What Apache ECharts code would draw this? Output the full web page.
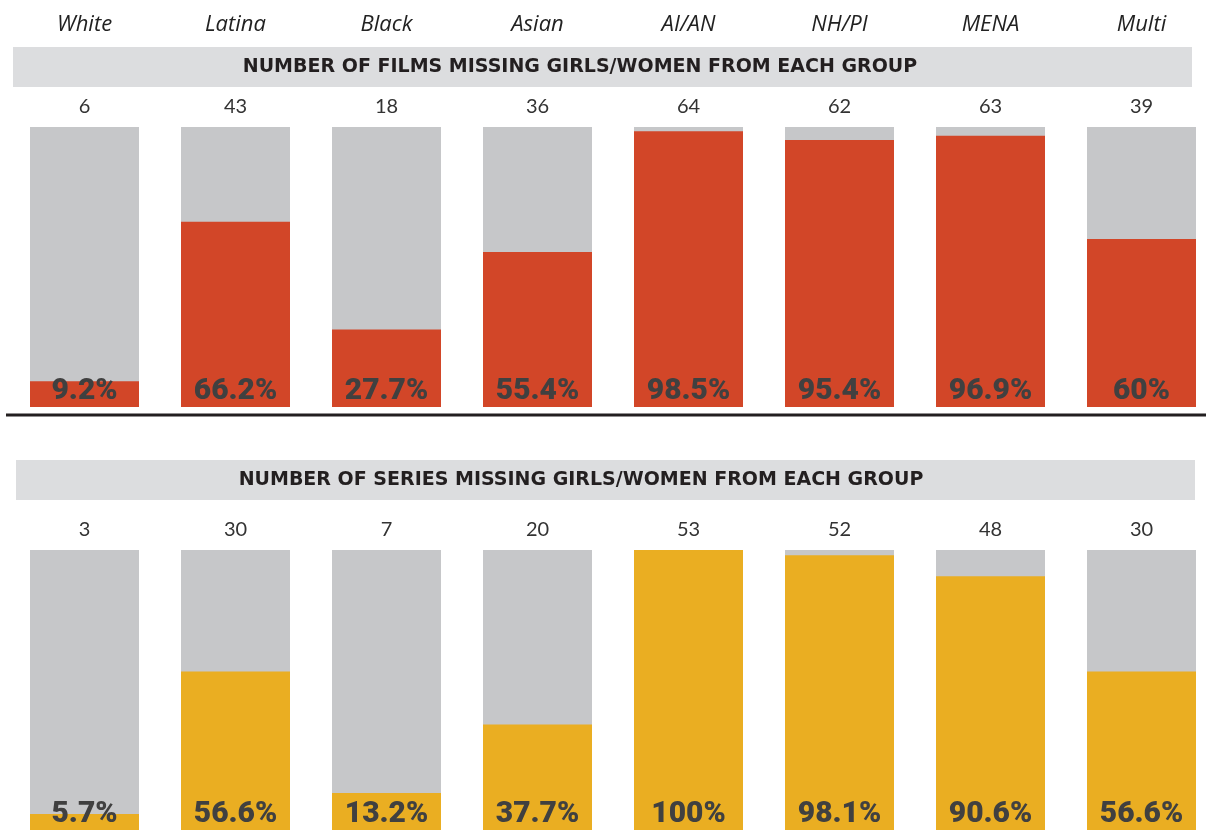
<!DOCTYPE html>
<html>
<head>
<meta charset="utf-8">
<script src="https://cdn.jsdelivr.net/npm/echarts@6/dist/echarts.min.js"></script>
<style>
  html, body { margin: 0; padding: 0; background: #fff; overflow: hidden; }
  #chart { width: 1220px; height: 834px; }
</style>
</head>
<body>
<div id="chart"></div>
<script>
// groups shown across the top
var groups = ['White', 'Latina', 'Black', 'Asian', 'AI/AN', 'NH/PI', 'MENA', 'Multi']

// films: number of films missing girls/women, and share of films
var filmCounts = [6, 43, 18, 36, 64, 62, 63, 39]
var filmPct = [9.2, 66.2, 27.7, 55.4, 98.5, 95.4, 96.9, 60]

// series: number of series missing girls/women, and share of series
var seriesCounts = [3, 30, 7, 20, 53, 52, 48, 30]
var seriesPct = [5.7, 56.6, 13.2, 37.7, 100, 98.1, 90.6, 56.6]

var full = groups.map(function () { return 100 })

var GRAY = '#c6c7c9'
var RED = '#d24628'
var GOLD = '#eaae22'
var BAND = '#dcdddf'

var chart = echarts.init(document.getElementById('chart'))

function countLabel(counts) {
  return {
    show: true,
    position: 'top',
    distance: 10,
    fontFamily: 'Lato',
    fontSize: 20,
    color: '#333',
    formatter: function (p) { return counts[p.dataIndex] }
  }
}

function pctLabel() {
  return {
    show: true,
    position: 'insideBottom',
    distance: 1,
    fontFamily: 'Roboto',
    fontWeight: 900,
    fontSize: 30,
    color: '#404040',
    formatter: function (p) { return p.value + '%' }
  }
}

chart.setOption({
  animation: false,
  grid: [
    { left: 9, width: 1208, top: 127, height: 280 },
    { left: 9, width: 1208, top: 550, height: 280 }
  ],
  xAxis: [
    {
      gridIndex: 0,
      type: 'category',
      position: 'top',
      data: groups,
      axisLine: { show: false },
      axisTick: { show: false },
      axisLabel: {
        margin: 91,
        fontFamily: 'Open Sans',
        fontStyle: 'italic',
        fontSize: 22,
        color: '#222'
      }
    },
    {
      gridIndex: 1,
      type: 'category',
      data: groups,
      show: false
    }
  ],
  yAxis: [
    { gridIndex: 0, type: 'value', min: 0, max: 100, show: false },
    { gridIndex: 1, type: 'value', min: 0, max: 100, show: false }
  ],
  graphic: [
    { type: 'rect', shape: { x: 13, y: 47, width: 1179, height: 40 }, style: { fill: BAND } },
    {
      type: 'text', x: 580, y: 67,
      style: {
        text: 'NUMBER OF FILMS MISSING GIRLS/WOMEN FROM EACH GROUP',
        font: 'bold 19px "DejaVu Sans"', fill: '#231f20',
        align: 'center', verticalAlign: 'middle'
      }
    },
    {
      type: 'line', shape: { x1: 6, y1: 415, x2: 1206, y2: 415 },
      style: { stroke: '#231f20', lineWidth: 3 }
    },
    { type: 'rect', shape: { x: 16, y: 460, width: 1179, height: 40 }, style: { fill: BAND } },
    {
      type: 'text', x: 581, y: 480,
      style: {
        text: 'NUMBER OF SERIES MISSING GIRLS/WOMEN FROM EACH GROUP',
        font: 'bold 19px "DejaVu Sans"', fill: '#231f20',
        align: 'center', verticalAlign: 'middle'
      }
    }
  ],
  series: [
    {
      type: 'bar', xAxisIndex: 0, yAxisIndex: 0,
      data: full, barWidth: 109,
      itemStyle: { color: GRAY },
      label: countLabel(filmCounts)
    },
    {
      type: 'bar', xAxisIndex: 0, yAxisIndex: 0,
      data: filmPct, barWidth: 109, barGap: '-100%',
      itemStyle: { color: RED },
      label: pctLabel()
    },
    {
      type: 'bar', xAxisIndex: 1, yAxisIndex: 1,
      data: full, barWidth: 109,
      itemStyle: { color: GRAY },
      label: countLabel(seriesCounts)
    },
    {
      type: 'bar', xAxisIndex: 1, yAxisIndex: 1,
      data: seriesPct, barWidth: 109, barGap: '-100%',
      itemStyle: { color: GOLD },
      label: pctLabel()
    }
  ]
})
</script>
</body>
</html>
